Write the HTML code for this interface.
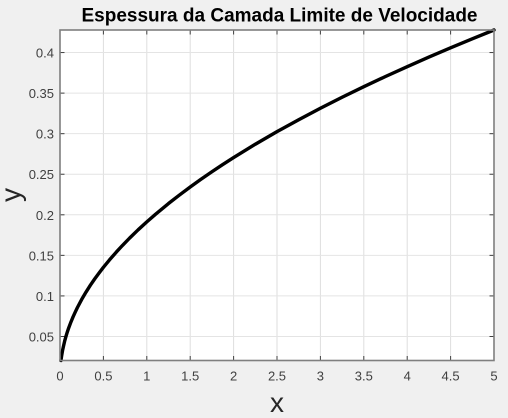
<!DOCTYPE html>
<html>
<head>
<meta charset="utf-8">
<style>
html,body{margin:0;padding:0;background:#f0f0f0;}
body{width:508px;height:418px;overflow:hidden;}
svg{display:block;font-family:"Liberation Sans",sans-serif;filter:blur(0.3px);}
</style>
</head>
<body>
<svg id="chart" width="508" height="418" viewBox="0 0 508 418" xmlns="http://www.w3.org/2000/svg">
  <rect x="0" y="0" width="508" height="418" fill="#f0f0f0"/>
  <rect x="60" y="30" width="434" height="330.5" fill="#ffffff"/>
  <g id="grid"></g>
  <g id="ticks"></g>
  <path id="curve" fill="none" stroke="#000000" stroke-width="3.4" stroke-linejoin="round" stroke-linecap="round"/>
  <rect x="60" y="30" width="434" height="330.5" fill="none" stroke="#7f7f7f" stroke-width="1.6"/>
  <text x="279.5" y="21.5" text-anchor="middle" font-size="19" font-weight="bold" fill="#000000">Espessura da Camada Limite de Velocidade</text>
  <text x="277" y="412" text-anchor="middle" font-size="28" fill="#262626">x</text>
  <text transform="translate(20,195) rotate(-90)" text-anchor="middle" font-size="28" fill="#262626">y</text>
</svg>
<script>
const curveX = [0.011, 0.02, 0.03, 0.04, 0.055, 0.07, 0.085, 0.1, 0.125, 0.15, 0.175, 0.2, 0.25, 0.3, 0.35, 0.4, 0.45, 0.5, 0.57, 0.65, 0.72, 0.8, 0.9, 1, 1.1, 1.25, 1.37, 1.5, 1.62, 1.75, 1.87, 2, 2.25, 2.5, 2.75, 3, 3.25, 3.5, 3.75, 4, 4.25, 4.5, 4.75, 5];
const curveY = [0.0204, 0.027, 0.0331, 0.038, 0.0449, 0.0506, 0.0558, 0.0605, 0.0676, 0.0741, 0.08, 0.0856, 0.0957, 0.1048, 0.1132, 0.121, 0.1283, 0.1353, 0.1444, 0.1542, 0.1623, 0.1711, 0.1815, 0.1913, 0.2006, 0.2139, 0.2239, 0.2343, 0.2435, 0.2531, 0.2616, 0.2705, 0.287, 0.3025, 0.3172, 0.3313, 0.3449, 0.3579, 0.3705, 0.3826, 0.3944, 0.4058, 0.4169, 0.4278];
const xTicks = [0, 0.5, 1, 1.5, 2, 2.5, 3, 3.5, 4, 4.5, 5];
const yTicks = [0.05, 0.1, 0.15, 0.2, 0.25, 0.3, 0.35, 0.4];

const NS = 'http://www.w3.org/2000/svg';
const scaleX = function (v) { return 60 + (v / 5) * 434; };
const scaleY = function (v) { return 360.5 - ((v - 0.0204) / (0.4278 - 0.0204)) * 330.5; };

const svg = document.getElementById('chart');
const grid = document.getElementById('grid');
const ticks = document.getElementById('ticks');

function line(parent, x1, y1, x2, y2, color) {
  const el = document.createElementNS(NS, 'line');
  el.setAttribute('x1', x1);
  el.setAttribute('y1', y1);
  el.setAttribute('x2', x2);
  el.setAttribute('y2', y2);
  el.setAttribute('stroke', color);
  el.setAttribute('stroke-width', '1');
  parent.appendChild(el);
  return el;
}

function label(x, y, anchor, content) {
  const el = document.createElementNS(NS, 'text');
  el.setAttribute('x', x);
  el.setAttribute('y', y);
  el.setAttribute('text-anchor', anchor);
  el.setAttribute('font-size', '13');
  el.setAttribute('fill', '#404040');
  el.textContent = content;
  svg.appendChild(el);
  return el;
}

xTicks.forEach(function (t) {
  const px = scaleX(t);
  const g = line(grid, px, 30, px, 360.5, '#dedede');
  
  
  const m1 = line(ticks, px, 360.5, px, 356, '#404040');
  
  
  const m2 = line(ticks, px, 30, px, 34.5, '#404040');
  
  
  const l = label(px, 380.5, 'middle', String(t));
  
  
});

yTicks.forEach(function (t) {
  const py = scaleY(t);
  const g = line(grid, 60, py, 494, py, '#e4e4e4');
  
  
  const m1 = line(ticks, 60, py, 64.5, py, '#404040');
  
  
  const m2 = line(ticks, 494, py, 489.5, py, '#404040');
  
  
  const l = label(54, py + 5, 'end', String(t));
  
  
});

document.getElementById('curve').setAttribute('d', curveX.map(function (v, i) {
  return (i ? 'L' : 'M') + scaleX(v).toFixed(2) + ' ' + scaleY(curveY[i]).toFixed(2);
}).join(' '));
</script>
</body>
</html>
